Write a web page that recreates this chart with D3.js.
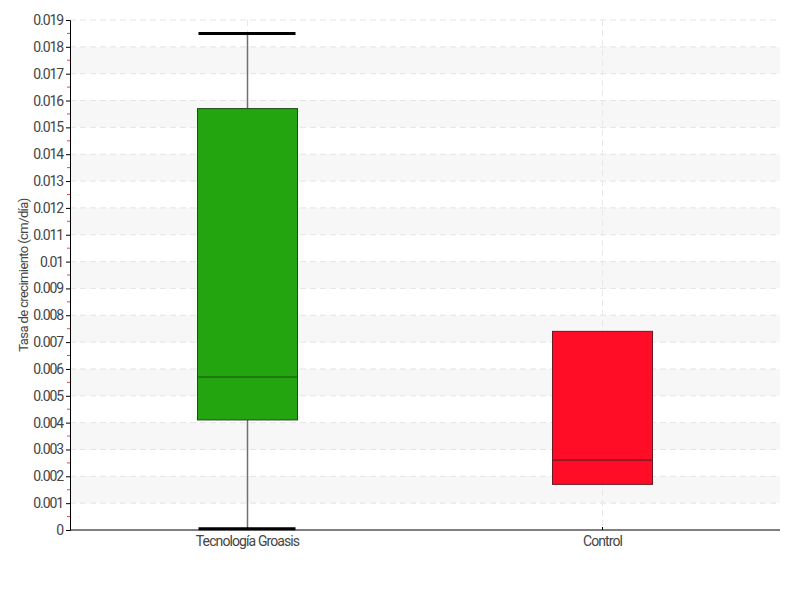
<!DOCTYPE html>
<html>
  <head>
    <meta charset="utf-8"/>
    <script type="text/javascript" src="https://cdnjs.cloudflare.com/ajax/libs/d3/7.8.5/d3.min.js"></script>
    <style type="text/css">

html, body {
  margin: 0;
  padding: 0;
  background: #fff;
}

svg text {
  font-family: Roboto, "DejaVu Sans Condensed", sans-serif;
  fill: #444;
}

    </style>
  </head>
  <body>
    <div id="chart"></div>
    <script type="text/javascript">

// box plot values
var categories = ["Tecnología Groasis", "Control"];
var mins    = [0.00005, 0.0017];
var q1s     = [0.0041, 0.0017];
var medians = [0.0057, 0.0026];
var q3s     = [0.0157, 0.0074];
var maxs    = [0.0185, 0.0074];
var colors  = ["#22a50f", "#ff0d26"];
var strokes = ["#1d4d16", "#6b1a22"];
var yTicks  = d3.range(0, 20).map(function(i) { return i / 1000; });

var width = 800, height = 600,
    margin = {top: 20, right: 20, bottom: 70, left: 70};

var svg = d3.select("#chart").append("svg")
    .attr("width", width)
    .attr("height", height);

var x = d3.scaleBand()
    .domain(categories)
    .range([margin.left, width - margin.right]);

var y = d3.scaleLinear()
    .domain([0, 0.019])
    .range([height - margin.bottom, margin.top]);

// alternating bands
svg.append("g").selectAll("rect")
    .data(yTicks.filter(function(t, i) { return i % 2 == 1 && i < 19; }))
  .enter().append("rect")
    .attr("x", margin.left)
    .attr("width", width - margin.right - margin.left)
    .attr("y", function(d) { return y(d + 0.001); })
    .attr("height", function(d) { return y(d) - y(d + 0.001); })
    .attr("fill", "#f7f7f7");

// grid lines
svg.append("g").selectAll("line")
    .data(yTicks.slice(1))
  .enter().append("line")
    .attr("x1", margin.left)
    .attr("x2", width - margin.right)
    .attr("y1", function(d) { return y(d); })
    .attr("y2", function(d) { return y(d); })
    .attr("stroke", "#e4e4e4")
    .attr("stroke-dasharray", "6,4");

svg.append("g").selectAll("line")
    .data(categories)
  .enter().append("line")
    .attr("x1", function(d) { return x(d) + x.bandwidth() / 2; })
    .attr("x2", function(d) { return x(d) + x.bandwidth() / 2; })
    .attr("y1", margin.top)
    .attr("y2", height - margin.bottom)
    .attr("stroke", "#e8e8e8")
    .attr("stroke-dasharray", "6,4");

// boxes
var boxW = 100;
var box = svg.append("g").selectAll("g")
    .data(categories)
  .enter().append("g")
    .attr("transform", function(d) { return "translate(" + (x(d) + x.bandwidth() / 2) + ",0)"; });

box.append("line")
    .attr("y1", function(d, i) { return y(mins[i]); })
    .attr("y2", function(d, i) { return y(maxs[i]); })
    .attr("stroke", "#707070")
    .attr("stroke-width", 1.5);

box.append("rect")
    .attr("x", -boxW / 2)
    .attr("width", boxW)
    .attr("y", function(d, i) { return y(q3s[i]); })
    .attr("height", function(d, i) { return y(q1s[i]) - y(q3s[i]); })
    .attr("fill", function(d, i) { return colors[i]; })
    .attr("stroke", function(d, i) { return strokes[i]; })
    .attr("stroke-width", 1);

box.append("line")
    .attr("x1", -boxW / 2)
    .attr("x2", boxW / 2)
    .attr("y1", function(d, i) { return y(medians[i]); })
    .attr("y2", function(d, i) { return y(medians[i]); })
    .attr("stroke", function(d, i) { return strokes[i]; })
    .attr("stroke-width", 1.2);

// whisker caps, only where the whisker leaves the box
box.each(function(d, i) {
  var g = d3.select(this);
  [mins[i], maxs[i]].forEach(function(v) {
    if (v < q1s[i] || v > q3s[i]) {
      g.append("line")
          .attr("x1", -49)
          .attr("x2", 48)
          .attr("y1", y(v))
          .attr("y2", y(v))
          .attr("stroke", "#000")
          .attr("stroke-width", 3);
    }
  });
});

// axes
var yAxis = svg.append("g")
    .attr("transform", "translate(" + margin.left + ",0)")
    .call(d3.axisLeft(y).tickValues(yTicks).tickSize(4).tickPadding(3)
      .tickFormat(function(d) { return d == 0 ? "0" : d3.format(".3~f")(d); }));
yAxis.select(".domain").attr("stroke", "#000");
yAxis.selectAll(".tick line").attr("stroke", "#000");
yAxis.selectAll("text").style("font-size", "14px").style("letter-spacing", "-1.1px").attr("fill", "#555");

// red minor ticks
svg.append("g").selectAll("line")
    .data(yTicks.slice(0, 19))
  .enter().append("line")
    .attr("x1", margin.left - 3)
    .attr("x2", margin.left)
    .attr("y1", function(d) { return y(d + 0.0005); })
    .attr("y2", function(d) { return y(d + 0.0005); })
    .attr("stroke", "#ff3b3b");

var xAxis = svg.append("g")
    .attr("transform", "translate(0," + (height - margin.bottom) + ")")
    .call(d3.axisBottom(x).tickSize(3).tickPadding(3));
xAxis.select(".domain").attr("stroke", "#000").attr("d", "M" + margin.left + ",0H" + (width - margin.right));
xAxis.selectAll(".tick line").attr("stroke", "#000").attr("transform", "translate(0,-3)");
xAxis.selectAll("text").style("font-size", "14px").style("letter-spacing", "-0.9px").attr("fill", "#555");

svg.append("text")
    .attr("transform", "translate(28," + (y(0.0095)) + ") rotate(-90)")
    .attr("text-anchor", "middle")
    .style("font-size", "13px")
    .style("letter-spacing", "-0.6px")
    .attr("fill", "#555")
    .text("Tasa de crecimiento (cm/día)");

    </script>
  </body>
</html>
